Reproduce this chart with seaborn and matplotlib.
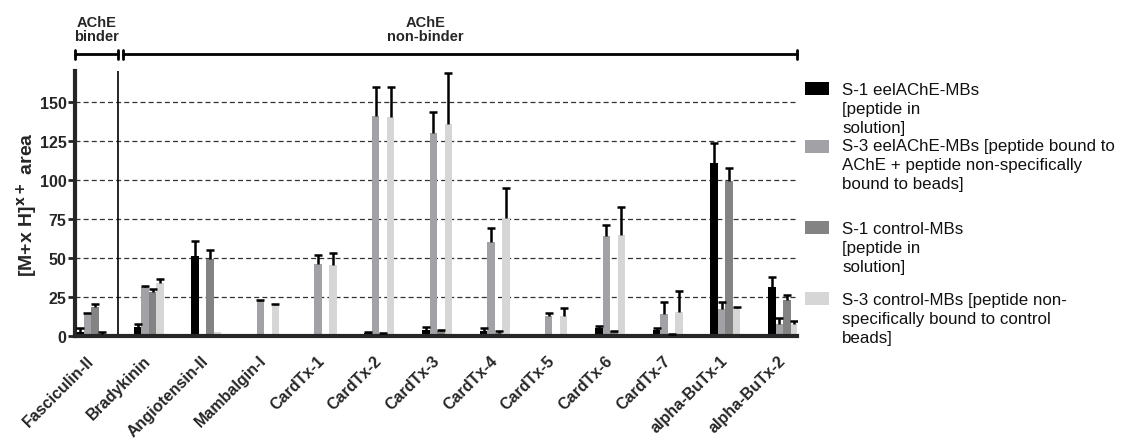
import numpy as np
import pandas as pd
import seaborn as sns
import matplotlib.pyplot as plt
import matplotlib.transforms as mtransforms
from matplotlib.patches import Rectangle

# Data
# =====================================================================
peptides = ['Fasciculin-II', 'Bradykinin', 'Angiotensin-II', 'Mambalgin-I',
            'CardTx-1', 'CardTx-2', 'CardTx-3', 'CardTx-4', 'CardTx-5',
            'CardTx-6', 'CardTx-7', 'alpha-BuTx-1', 'alpha-BuTx-2']

conditions = ['S-1 eelAChE-MBs', 'S-3 eelAChE-MBs', 'S-1 control-MBs', 'S-3 control-MBs']

s1_eel = [2.5, 6, 51.3, 1, 1, 2, 4, 3, 0, 5, 4, 111.3, 31.6]
s1_eel_err = [2.5, 1.5, 9.7, 0, 0, 0.5, 2, 2, 0, 1.6, 1, 12.4, 6.2]
s3_eel = [14.5, 31.3, 1, 22.5, 46, 141, 130, 60, 12.8, 64, 14, 17.3, 8]
s3_eel_err = [0.5, 0.5, 0, 0.5, 6, 19, 14, 9, 2.2, 7, 7.8, 4.5, 3.7]
s1_ctrl = [18.5, 28.5, 49.5, 0, 0, 1.5, 3, 2, 0, 3, 1, 99.4, 22.8]
s1_ctrl_err = [2, 1.5, 5.5, 0, 0, 0.5, 1, 1.5, 0, 0.5, 0.5, 8.6, 3.7]
s3_ctrl = [1.3, 34, 2.5, 20, 45.7, 140.6, 136, 75.6, 12.8, 65, 15.6, 17.7, 7.7]
s3_ctrl_err = [1.2, 2.5, 0, 0.5, 7.3, 19.4, 32.6, 19.4, 5.2, 18, 13.2, 0.6, 2.1]

legend_labels = ['S-1 eelAChE-MBs\n[peptide in\nsolution]',
                 'S-3 eelAChE-MBs [peptide bound to\nAChE + peptide non-specifically\nbound to beads]',
                 'S-1 control-MBs\n[peptide in\nsolution]',
                 'S-3 control-MBs [peptide non-\nspecifically bound to control\nbeads]']

yticks = [0, 25, 50, 75, 100, 125, 150]

# Long dataframe
values = [s1_eel, s3_eel, s1_ctrl, s3_ctrl]
errors = [s1_eel_err, s3_eel_err, s1_ctrl_err, s3_ctrl_err]
df = pd.DataFrame({
    'peptide': np.tile(peptides, len(conditions)),
    'condition': np.repeat(conditions, len(peptides)),
    'area': np.concatenate(values),
})

# Visualization
# =====================================================================
sns.set_style('ticks')
plt.rcParams['font.family'] = ['Liberation Sans', 'DejaVu Sans']

palette = ['#000000', '#a2a2a6', '#838383', '#d6d6d6']

fig = plt.figure(figsize=(11.21, 4.39), dpi=100)
ax = fig.add_axes([75 / 1121, 102 / 439, (797 - 75) / 1121, 265 / 439])

sns.barplot(data=df, x='peptide', y='area', hue='condition', hue_order=conditions,
            order=peptides, palette=palette, width=0.52, errorbar=None,
            saturation=1, linewidth=0, legend=False, ax=ax)

# One-sided error bars (upper only, cap at the top)
for container, err in zip(ax.containers, errors):
    xs = np.array([b.get_x() + b.get_width() / 2 for b in container])
    hs = np.array([b.get_height() for b in container])
    err = np.array(err)
    mask = err > 0
    ax.vlines(xs[mask], hs[mask], hs[mask] + err[mask], color='black', linewidth=1.8, zorder=3)
    ax.plot(xs[mask], hs[mask] + err[mask], linestyle='none', marker='_',
            markersize=6, markeredgewidth=1.8, color='black', zorder=3)

# Axes styling
ax.set_xlim(-0.28, 12.24)
ax.set_ylim(0, 170)
ax.set_yticks(yticks)
ax.set_yticklabels([str(t) for t in yticks], fontsize=11.5, fontweight='bold')
ax.set_xticks(range(len(peptides)))
ax.set_xticklabels(peptides, rotation=45, ha='right', va='center',
                   rotation_mode='anchor', fontsize=11.5, fontweight='bold')
ax.tick_params(axis='x', length=0, pad=15.5)
ax.tick_params(axis='y', length=5, width=2, pad=1)
ax.set_xlabel('')
ax.set_ylabel('[M+x H]$^{\\mathbf{x+}}$ area', fontsize=14, fontweight='bold', labelpad=0)
for side in ['top', 'right']:
    ax.spines[side].set_visible(False)
ax.spines['left'].set_linewidth(3)
ax.spines['bottom'].set_linewidth(3)
ax.yaxis.grid(True, linestyle=(0, (4, 2.5)), color='#333333', linewidth=0.9)
ax.set_axisbelow(True)

# Separator between binder and non-binder
ax.axvline(0.47, color='black', linewidth=1.2)

# Top brackets
trans = mtransforms.blended_transform_factory(ax.transData, ax.transAxes)
yb = 1.064
for x0, x1 in [(-0.28, 0.47), (0.56, 12.24)]:
    ax.plot([x0, x1], [yb, yb], color='black', lw=2, transform=trans, clip_on=False)
    for xe in (x0, x1):
        ax.plot([xe, xe], [yb - 0.017, yb + 0.017], color='black', lw=2,
                transform=trans, clip_on=False)
ax.text(0.095, 1.158, 'AChE\nbinder', transform=trans, ha='center', va='center',
        fontsize=10.5, fontweight='bold', linespacing=1.05)
ax.text(5.8, 1.158, 'AChE\nnon-binder', transform=trans, ha='center', va='center',
        fontsize=10.5, fontweight='bold', linespacing=1.05)

# Manual legend to the right
sw_tops = [83, 141, 222, 293]
txt_tops = [83, 139, 222, 293]
for color, label, st, tt in zip(palette, legend_labels, sw_tops, txt_tops):
    fig.patches.append(Rectangle((805 / 1121, 1 - (st + 13) / 439), 24 / 1121, 13 / 439,
                                 transform=fig.transFigure, facecolor=color, edgecolor='none'))
    fig.text(842 / 1121, 1 - tt / 439, label, ha='left', va='top', fontsize=12.2,
             linespacing=1.33, color='#111111')

fig.savefig('out.png', dpi=100)
